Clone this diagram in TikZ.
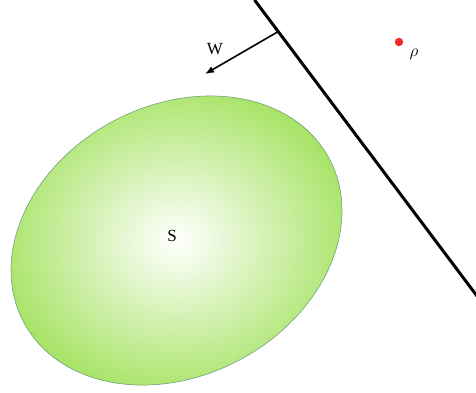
\documentclass[tikz,border=0pt]{standalone}
\usepackage{fontspec}
\setmainfont{Liberation Serif}
\usetikzlibrary{shapes.geometric,arrows.meta}
\definecolor{sgreen}{RGB}{164,226,96}
\definecolor{sedge}{RGB}{100,150,120}
\definecolor{dotred}{RGB}{240,40,40}
\tikzset{
  lbl/.style={font=\fontsize{17}{17}\selectfont, inner sep=0pt},
  blob/.style={ellipse, draw=sedge, line width=0.5pt, inner color=white, outer color=sgreen},
}
\begin{document}
\begin{tikzpicture}[x=1pt,y=-1pt]
\useasboundingbox (0,0) rectangle (476,392);
\node[blob, minimum width=346.6pt, minimum height=270.2pt, rotate=28.3] (E) at (176.5,240.5) {};
\node[lbl] (S) at (172,236) {S};
\coordinate (top) at (254.5,0);
\coordinate (bot) at (477,296);
\draw[line width=3pt] (top) -- (bot);
\coordinate (foot) at (277.5,32);
\coordinate (tip) at (205,74);
\draw[line width=1.6pt, -{Latex[length=9pt,width=7pt]}] (foot) -- (tip);
\node[lbl] (W) at (215,49) {W};
\fill[dotred] (399,42) circle [radius=4.2];
\node[lbl] (rho) at (414,54) {$\rho$};
\end{tikzpicture}
\end{document}
